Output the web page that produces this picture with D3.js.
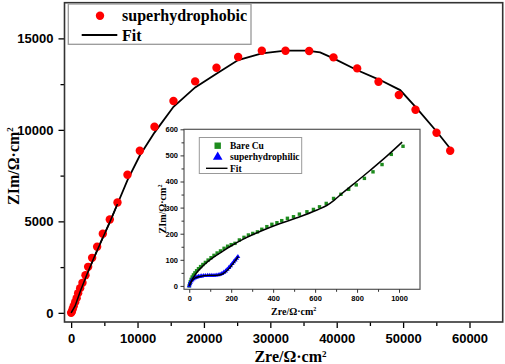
<!DOCTYPE html>
<html>
  <head>
    <title>Nyquist plot</title>
    <script src="https://d3js.org/d3.v7.min.js"></script>
    <style>
      body { margin: 0; background: #fff; }
      .tick text { font-family: "Liberation Sans", Arial, sans-serif; font-weight: bold; fill: #000; }
      .title { font-family: "Liberation Serif", "Times New Roman", serif; font-weight: bold; fill: #000; }
    </style>
  </head>
  <body>
    <div id="chart"></div>
    <script>
      // superhydrophobic (main plot)
      const phobicX = [0, 105, 226, 377, 603, 828, 1054, 1356, 1707, 2159, 2561, 3163, 3916, 4770, 5824, 6979, 8485, 10343, 12553, 15414, 18678, 21892, 25155, 28720, 32285, 35850, 39515, 43080, 46294, 49356, 51867, 55030, 57090];
      const phobicY = [0, 66, 202, 366, 585, 804, 1077, 1350, 1640, 2060, 2515, 3007, 3609, 4320, 5103, 6033, 7546, 8858, 10170, 11574, 12649, 13396, 13979, 14326, 14326, 14307, 13961, 13360, 12631, 11902, 11100, 9842, 8858];
      const phobicFitX = [0, 600, 1350, 2360, 3364, 4368, 5875, 6979, 8485, 10343, 12553, 15414, 18678, 21942, 25155, 28720, 32285, 35498, 37507, 39515, 43030, 46545, 49558, 52068, 55080, 57089];
      const phobicFitY = [0, 380, 1150, 2080, 2950, 3780, 5000, 5950, 7250, 8600, 9850, 11264, 12321, 13086, 13815, 14180, 14326, 14326, 14234, 13907, 13269, 12722, 12175, 11173, 9897, 8985];

      // inset: bare Cu
      const cuX = [0, 2, 5, 9, 14, 20, 27, 35, 44, 54, 65, 77, 90, 104, 118, 133, 149, 166, 183, 200, 218, 239, 261, 282, 303, 325, 346, 370, 394, 418, 441, 468, 497, 525, 561, 592, 621, 653, 688, 723, 760, 796, 835, 876, 919, 963, 1019];
      const cuY = [0, 8, 16, 25, 34, 42, 50, 58, 66, 74, 82, 90, 99, 108, 117, 126, 134, 144, 152, 158, 163, 176, 186, 195, 201, 207, 217, 227, 236, 242, 250, 259, 265, 275, 284, 293, 303, 316, 335, 351, 370, 387, 412, 437, 465, 504, 535];
      const cuFitX = [0, 10, 30, 70, 120, 166, 195, 260, 354, 430, 513, 609, 655, 690, 725, 783, 863, 943, 1015];
      const cuFitY = [0, 18, 45, 80, 112, 136, 151, 180, 214, 238, 261, 291, 308, 328, 352, 390, 443, 498, 551];

      // inset: superhydrophilic
      const philicX = [0, 3, 6, 10, 14, 19, 24, 30, 37, 44, 52, 60, 69, 78, 88, 98, 108, 118, 128, 138, 147, 156, 165, 173, 181, 189, 197, 205, 212, 219, 226, 232];
      const philicY = [0, 8, 14, 19, 23, 27, 30, 32, 34, 36, 37, 38, 39, 39, 40, 40, 40, 40, 41, 42, 44, 47, 52, 57, 63, 70, 77, 85, 92, 99, 106, 112];
      const philicFitX = [0, 10, 25, 50, 90, 130, 160, 190, 215, 234];
      const philicFitY = [0, 17, 29, 36, 40, 40, 46, 66, 92, 112];

      const xTicks = [0, 10000, 20000, 30000, 40000, 50000, 60000];
      const yTicks = [0, 5000, 10000, 15000];
      const insetXTicks = [0, 200, 400, 600, 800, 1000];
      const insetYTicks = [0, 100, 200, 300, 400, 500, 600];

      const zip = (xs, ys) => xs.map((x, i) => [x, ys[i]]);

      const svg = d3
        .select("#chart")
        .append("svg")
        .attr("width", 505)
        .attr("height", 364);

      // ---- main plot ----
      const x = d3.scaleLinear().domain([-1000, 65000]).range([64.5, 502.7]);
      const y = d3.scaleLinear().domain([-500, 16950]).range([322, 2.7]);

      // minor ticks
      svg.append("g")
        .attr("transform", "translate(0,322)")
        .call(d3.axisBottom(x).tickValues(d3.range(5000, 65000, 10000)).tickSize(4).tickFormat(""))
        .call((g) => g.select(".domain").remove());
      svg.append("g")
        .attr("transform", "translate(64.5,0)")
        .call(d3.axisLeft(y).tickValues(d3.range(2500, 17000, 5000)).tickSize(4).tickFormat(""))
        .call((g) => g.select(".domain").remove());

      const xAxis = svg.append("g")
        .attr("transform", "translate(0,322)")
        .call(d3.axisBottom(x).tickValues(xTicks).tickSize(6).tickPadding(6).tickFormat(d3.format("d")));
      xAxis.select(".domain").remove();
      xAxis.selectAll("text").attr("font-size", 13);

      const yAxis = svg.append("g")
        .attr("transform", "translate(64.5,0)")
        .call(d3.axisLeft(y).tickValues(yTicks).tickSize(6).tickPadding(5).tickFormat(d3.format("d")));
      yAxis.select(".domain").remove();
      yAxis.selectAll("text").attr("font-size", 13);
      svg.selectAll(".tick line").attr("stroke", "#000").attr("stroke-width", 1.3);

      svg.append("rect")
        .attr("x", 64.5).attr("y", 2.7)
        .attr("width", 502.7 - 64.5).attr("height", 322 - 2.7)
        .attr("fill", "none").attr("stroke", "#333").attr("stroke-width", 1.6);

      // fit line
      svg.append("path")
        .datum(zip(phobicFitX, phobicFitY))
        .attr("fill", "none").attr("stroke", "#000").attr("stroke-width", 1.8)
        .attr("d", d3.line().x((d) => x(d[0])).y((d) => y(d[1])));

      svg.append("g")
        .selectAll("circle")
        .data(zip(phobicX, phobicY))
        .join("circle")
        .attr("cx", (d) => x(d[0]))
        .attr("cy", (d) => y(d[1]))
        .attr("r", 4.2)
        .attr("fill", "#ff0000");

      // redraw fit over low end points like the original
      svg.append("path")
        .datum(zip(phobicFitX, phobicFitY).slice(0, 8))
        .attr("fill", "none").attr("stroke", "#000").attr("stroke-width", 1.5)
        .attr("d", d3.line().x((d) => x(d[0])).y((d) => y(d[1])));

      // legend
      const legend = svg.append("g");
      legend.append("rect")
        .attr("x", 68.3).attr("y", 4).attr("width", 182.7).attr("height", 40.3)
        .attr("fill", "#fff").attr("stroke", "#999").attr("stroke-width", 1.3);
      legend.append("circle").attr("cx", 100).attr("cy", 15.7).attr("r", 4.2).attr("fill", "#ff0000");
      legend.append("text").attr("class", "title").attr("x", 122).attr("y", 20.5)
        .attr("font-size", 16).text("superhydrophobic");
      legend.append("line").attr("x1", 81.7).attr("x2", 117.3).attr("y1", 35).attr("y2", 35)
        .attr("stroke", "#000").attr("stroke-width", 1.8);
      legend.append("text").attr("class", "title").attr("x", 122).attr("y", 40.5)
        .attr("font-size", 16).text("Fit");

      // axis titles
      const xt = svg.append("text").attr("class", "title")
        .attr("x", 290.5).attr("y", 362).attr("text-anchor", "middle").attr("font-size", 16);
      xt.append("tspan").text("Zre/Ω·cm");
      xt.append("tspan").attr("dy", "-0.6em").attr("font-size", 9).text("2");

      const yt = svg.append("text").attr("class", "title")
        .attr("transform", "translate(18.5,166) rotate(-90)")
        .attr("text-anchor", "middle").attr("font-size", 16);
      yt.append("tspan").text("ZIm/Ω·cm");
      yt.append("tspan").attr("dy", "-0.6em").attr("font-size", 9).text("2");

      // ---- inset ----
      const ix = d3.scaleLinear().domain([-25, 1100]).range([184, 420]);
      const iy = d3.scaleLinear().domain([-13, 600]).range([289.3, 129.3]);
      const inset = svg.append("g");

      inset.append("rect")
        .attr("x", 184).attr("y", 129.3).attr("width", 236).attr("height", 160)
        .attr("fill", "#fff").attr("stroke", "#555").attr("stroke-width", 1.2);

      inset.append("g")
        .attr("transform", "translate(0,289.3)")
        .call(d3.axisBottom(ix).tickValues(d3.range(100, 1100, 200)).tickSize(2.5).tickFormat(""))
        .call((g) => g.select(".domain").remove());
      inset.append("g")
        .attr("transform", "translate(184,0)")
        .call(d3.axisLeft(iy).tickValues(d3.range(50, 600, 100)).tickSize(2.5).tickFormat(""))
        .call((g) => g.select(".domain").remove());

      const ixAxis = inset.append("g")
        .attr("transform", "translate(0,289.3)")
        .call(d3.axisBottom(ix).tickValues(insetXTicks).tickSize(3.5).tickPadding(2.5).tickFormat(d3.format("d")));
      ixAxis.select(".domain").remove();
      ixAxis.selectAll("text").attr("font-size", 7.5);

      const iyAxis = inset.append("g")
        .attr("transform", "translate(184,0)")
        .call(d3.axisLeft(iy).tickValues(insetYTicks).tickSize(3.5).tickPadding(2.5).tickFormat(d3.format("d")));
      iyAxis.select(".domain").remove();
      iyAxis.selectAll("text").attr("font-size", 7.5);
      inset.selectAll(".tick line").attr("stroke", "#333").attr("stroke-width", 1);

      inset.append("g")
        .selectAll("rect")
        .data(zip(cuX, cuY))
        .join("rect")
        .attr("x", (d) => ix(d[0]) - 1.7)
        .attr("y", (d) => iy(d[1]) - 1.7)
        .attr("width", 3.4).attr("height", 3.4)
        .attr("fill", "#1e8c1e");

      const tri = d3.symbol().type(d3.symbolTriangle).size(10);
      inset.append("g")
        .selectAll("path")
        .data(zip(philicX, philicY))
        .join("path")
        .attr("transform", (d) => `translate(${ix(d[0])},${iy(d[1])})`)
        .attr("d", tri)
        .attr("fill", "#0000ff");

      const iline = d3.line().x((d) => ix(d[0])).y((d) => iy(d[1])).curve(d3.curveMonotoneX);
      inset.append("path").datum(zip(cuFitX, cuFitY))
        .attr("fill", "none").attr("stroke", "#000").attr("stroke-width", 1.5).attr("d", iline);
      inset.append("path").datum(zip(philicFitX, philicFitY))
        .attr("fill", "none").attr("stroke", "#000").attr("stroke-width", 1.3).attr("d", iline);

      // inset legend
      const il = inset.append("g");
      il.append("rect")
        .attr("x", 199.3).attr("y", 137.5).attr("width", 102.4).attr("height", 36)
        .attr("fill", "#fff").attr("stroke", "#999").attr("stroke-width", 1);
      il.append("rect").attr("x", 214.5).attr("y", 142.5).attr("width", 6.4).attr("height", 6.4).attr("fill", "#1e8c1e");
      il.append("path").attr("transform", "translate(217.7,157)")
        .attr("d", d3.symbol().type(d3.symbolTriangle).size(40)).attr("fill", "#0000ff");
      il.append("line").attr("x1", 206).attr("x2", 227.5).attr("y1", 168.3).attr("y2", 168.3)
        .attr("stroke", "#000").attr("stroke-width", 1.4);
      il.append("text").attr("class", "title").attr("x", 230).attr("y", 149).attr("font-size", 9.5).text("Bare Cu");
      il.append("text").attr("class", "title").attr("x", 230).attr("y", 160).attr("font-size", 9.5).text("superhydrophilic");
      il.append("text").attr("class", "title").attr("x", 230).attr("y", 171.5).attr("font-size", 9.5).text("Fit");

      const ixt = inset.append("text").attr("class", "title")
        .attr("x", 293.7).attr("y", 314.5).attr("text-anchor", "middle").attr("font-size", 10);
      ixt.append("tspan").text("Zre/Ω·cm");
      ixt.append("tspan").attr("dy", "-0.6em").attr("font-size", 6).text("2");

      const iyt = inset.append("text").attr("class", "title")
        .attr("transform", "translate(165.5,209) rotate(-90)")
        .attr("text-anchor", "middle").attr("font-size", 10);
      iyt.append("tspan").text("ZIm/Ω·cm");
      iyt.append("tspan").attr("dy", "-0.6em").attr("font-size", 6).text("2");
    </script>
  </body>
</html>
